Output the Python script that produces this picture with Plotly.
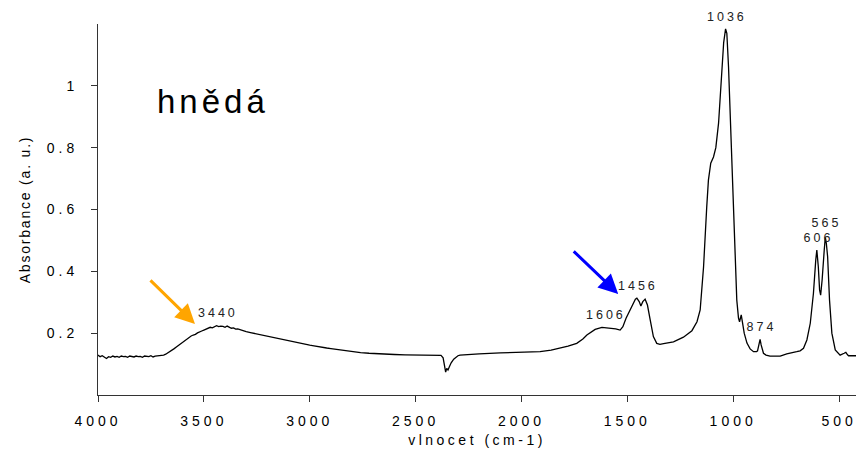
import plotly.graph_objects as go

# FTIR spectrum of the brown ("hnědá") sample
wavenumber = [
    4000, 3990, 3980, 3970, 3960, 3950, 3940, 3930, 3920, 3910, 3900, 3890, 3880,
    3870, 3860, 3850, 3840, 3830, 3820, 3810, 3800, 3790, 3780, 3770, 3760, 3750,
    3740, 3730, 3720, 3710, 3700, 3690, 3680, 3670, 3660, 3650, 3640, 3630, 3620,
    3610, 3600, 3590, 3580, 3570, 3560, 3550, 3540, 3530, 3520, 3510, 3500, 3490,
    3480, 3470, 3460, 3450, 3440, 3430, 3420, 3410, 3400, 3390, 3380, 3370, 3360,
    3350, 3340, 3320, 3300, 3280, 3260, 3240, 3220, 3200, 3180, 3160, 3140, 3120,
    3100, 3080, 3060, 3040, 3020, 3000, 2980, 2960, 2940, 2920, 2900, 2880, 2860,
    2840, 2820, 2800, 2760, 2720, 2680, 2640, 2600, 2550, 2500, 2450, 2400, 2380,
    2370, 2363, 2358, 2353, 2347, 2340, 2332, 2320, 2310, 2300, 2290, 2250, 2200,
    2100, 2000, 1950, 1912, 1860, 1817, 1780, 1739, 1710, 1691, 1670, 1652, 1620,
    1581, 1555, 1534, 1521, 1506, 1490, 1474, 1462, 1455, 1444, 1436, 1427, 1416,
    1405, 1392, 1377, 1361, 1346, 1329, 1282, 1235, 1195, 1171, 1156, 1140, 1133,
    1125, 1117, 1106, 1093, 1082, 1069, 1053, 1045, 1036, 1030, 1022, 1014, 1006,
    999, 991, 983, 975, 970, 962, 956, 948, 935, 920, 904, 890, 885, 878, 873, 868,
    862, 857, 845, 826, 778, 747, 700, 684, 668, 652, 636, 621, 610, 605, 598, 592,
    587, 580, 570, 565, 560, 554, 545, 534, 518, 495, 476, 468, 460, 455, 419,
]
absorbance = [
    0.129, 0.124, 0.127, 0.121, 0.118, 0.124, 0.122, 0.126, 0.123, 0.125, 0.122, 0.126, 0.124,
    0.125, 0.122, 0.126, 0.124, 0.123, 0.126, 0.124, 0.125, 0.122, 0.126, 0.125, 0.124, 0.127,
    0.123, 0.126, 0.127, 0.126, 0.128, 0.129, 0.132, 0.136, 0.141, 0.145, 0.150, 0.155, 0.160,
    0.166, 0.172, 0.177, 0.183, 0.186, 0.191, 0.194, 0.196, 0.201, 0.203, 0.207, 0.210, 0.213,
    0.215, 0.219, 0.217, 0.222, 0.224, 0.221, 0.223, 0.222, 0.219, 0.223, 0.218, 0.216, 0.217,
    0.213, 0.214, 0.209, 0.205, 0.202, 0.199, 0.196, 0.193, 0.191, 0.188, 0.185, 0.181, 0.178,
    0.174, 0.171, 0.168, 0.166, 0.163, 0.161, 0.159, 0.156, 0.154, 0.152, 0.150, 0.148, 0.146,
    0.144, 0.142, 0.140, 0.137, 0.135, 0.133, 0.132, 0.131, 0.130, 0.129, 0.129, 0.129, 0.128,
    0.120, 0.082, 0.074, 0.086, 0.081, 0.092, 0.104, 0.116, 0.122, 0.127, 0.129, 0.131, 0.133,
    0.136, 0.139, 0.139, 0.140, 0.145, 0.151, 0.158, 0.167, 0.181, 0.194, 0.205, 0.212, 0.219,
    0.217, 0.214, 0.210, 0.221, 0.248, 0.270, 0.297, 0.310, 0.313, 0.302, 0.288, 0.302, 0.310,
    0.291, 0.243, 0.189, 0.167, 0.164, 0.166, 0.172, 0.187, 0.208, 0.237, 0.275, 0.414, 0.524,
    0.608, 0.695, 0.750, 0.770, 0.800, 0.880, 1.060, 1.140, 1.184, 1.170, 1.060, 0.900, 0.738,
    0.576, 0.414, 0.307, 0.249, 0.237, 0.259, 0.237, 0.200, 0.168, 0.149, 0.140, 0.140, 0.143, 0.172, 0.180, 0.162,
    0.145, 0.135, 0.129, 0.126, 0.126, 0.133, 0.140, 0.143, 0.151, 0.178, 0.232, 0.329, 0.437, 0.469, 0.415, 0.340,
    0.323, 0.372, 0.469, 0.510, 0.490, 0.447, 0.307, 0.200, 0.146, 0.129, 0.135, 0.138, 0.130, 0.127, 0.127,
]

x_ticks = [4000, 3500, 3000, 2500, 2000, 1500, 1000, 500]
y_ticks = [0.2, 0.4, 0.6, 0.8, 1.0]
y_tick_labels = ["0.2", "0.4", "0.6", "0.8", "1"]

peak_positions = [3440, 1606, 1456, 1036, 874, 606, 565]
sample_name = "hnědá"

# placement of each peak label: (absorbance anchor, extra vertical shift in px)
label_place = {3440: (0.265, 0), 1606: (0.259, 0), 1456: (0.353, 0),
               1036: (1.19, 10), 874: (0.22, 0), 606: (0.508, 0), 565: (0.556, 0)}

FONT = "Liberation Sans, Arial, sans-serif"
AXIS_COLOR = "#333333"

fig = go.Figure()
fig.add_trace(go.Scatter(
    x=wavenumber, y=absorbance, mode="lines",
    line=dict(color="black", width=1.3),
    hoverinfo="x+y", showlegend=False,
))

annotations = [dict(
    text=sample_name, xref="paper", yref="paper", x=0.152, y=0.79,
    xanchor="center", yanchor="middle", showarrow=False,
    font=dict(family=FONT, size=33, color="black"),
)]
for p in peak_positions:
    y_anchor, y_shift = label_place[p]
    annotations.append(dict(
        text=str(p), x=p, y=y_anchor, xref="x", yref="y", yshift=y_shift,
        xanchor="center", yanchor="middle", showarrow=False, xshift=1.5,
        font=dict(family=FONT, size=12.5, color="#222222"),
    ))

# highlight arrows
annotations.append(dict(
    x=3542, y=0.23, xref="x", yref="y", ax=-46, ay=-45, text="",
    showarrow=True, arrowhead=2, arrowsize=1.3, arrowwidth=3,
    arrowcolor="#FFA500",
))
annotations.append(dict(
    x=1543, y=0.327, xref="x", yref="y", ax=-46, ay=-44, text="",
    showarrow=True, arrowhead=2, arrowsize=1.3, arrowwidth=3,
    arrowcolor="#0000FF",
))

fig.update_layout(
    width=856, height=451,
    margin=dict(l=98, r=0, t=24, b=56),
    paper_bgcolor="white", plot_bgcolor="white",
    font=dict(family=FONT, size=14, color="black"),
    annotations=annotations,
    xaxis=dict(
        range=[4000, 420], tickvals=x_ticks,
        showline=True, linecolor=AXIS_COLOR, linewidth=1, mirror=False,
        ticks="outside", ticklen=6, tickcolor=AXIS_COLOR, tickwidth=1,
        showgrid=False, zeroline=False, ticklabelstandoff=7,
        tickfont=dict(family=FONT, size=14, color="black"),
        title=dict(text="vlnocet (cm-1)", standoff=7,
                   font=dict(family=FONT, size=14, color="black")),
    ),
    yaxis=dict(
        range=[0, 1.2], tickvals=y_ticks, ticktext=y_tick_labels,
        showline=True, linecolor=AXIS_COLOR, linewidth=1, mirror=False,
        ticks="outside", ticklen=6, tickcolor=AXIS_COLOR, tickwidth=1,
        showgrid=False, zeroline=False, ticklabelstandoff=10,
        tickfont=dict(family=FONT, size=14, color="black"),
        title=dict(text="Absorbance (a. u.)", standoff=24,
                   font=dict(family=FONT, size=14, color="black")),
    ),
)

# wider letter spacing for the axis and label text
css = (".xtick text,.ytick text{letter-spacing:4px}"
       ".xtitle{letter-spacing:3.5px}"
       ".ytitle{letter-spacing:1.8px}"
       ".annotation-text{letter-spacing:3px}"
       ".annotation[data-index=\"0\"] .annotation-text{letter-spacing:4px}")
post_script = ("var s=document.createElement('style');s.textContent='" + css +
               "';document.head.appendChild(s);")

fig.write_html("out.html", post_script=post_script)
